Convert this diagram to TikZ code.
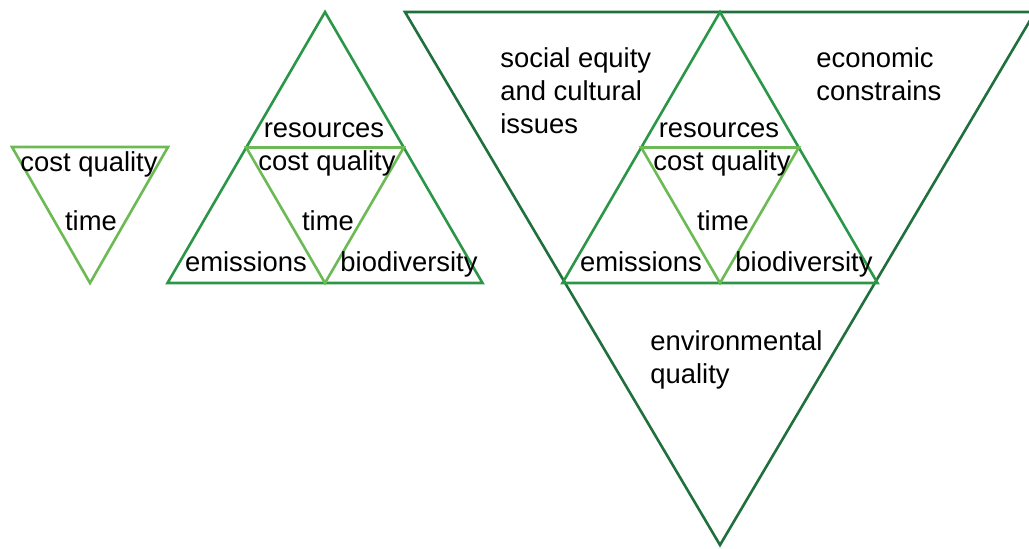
\documentclass[tikz,border=0pt]{standalone}
\usepackage{fontspec}
\setmainfont{Liberation Sans}
\usetikzlibrary{positioning}
\definecolor{deepGreen}{RGB}{32,112,62}
\definecolor{midGreen}{RGB}{44,150,72}
\definecolor{lightGreen}{RGB}{108,186,84}
\tikzset{
  outerline/.style={draw=deepGreen, line width=1.3pt},
  midline/.style={draw=midGreen, line width=1.3pt},
  innerline/.style={draw=lightGreen, line width=1.3pt},
  lbl/.style={inner sep=0pt, anchor=base, font=\fontsize{13.7}{16.5}\selectfont},
  blocklbl/.style={lbl, anchor=north west, align=left}
}

\begin{document}
\begin{tikzpicture}[x=0.5pt, y=-0.5pt]
        \clip (0,0) rectangle (1029,548);
        % single triangle
        \coordinate (one-l) at (12,147);
        \coordinate (one-r) at (168,147);
        \coordinate (one-b) at (90,283);
        \draw[innerline] (one-l) -- (one-r) -- (one-b) -- cycle;
        \node[lbl] (one-cq) at (89,171) {cost quality};
        \node[lbl] (one-time) at (91,230) {time};
        % big inverted triangle
        \coordinate (big-l) at (405,12);
        \coordinate (big-r) at (1035,12);
        \coordinate (big-b) at (720,545);
        \draw[outerline] (big-l) -- (big-r) -- (big-b) -- cycle;
        \node[blocklbl] (social) at (500,47) {social equity\\and cultural\\issues};
        \node[blocklbl] (econ) at (816,47) {economic\\constrains};
        \node[blocklbl] (env) at (650,330) {environmental\\quality};
        % triangle of four, twice
        \foreach \cx/\tag in {325/mid, 720/top}{
          \coordinate (\tag-a) at (\cx,12);
          \coordinate (\tag-bl) at (\cx-157.5,283);
          \coordinate (\tag-br) at (\cx+157.5,283);
          \coordinate (\tag-ml) at (\cx-78.75,147.5);
          \coordinate (\tag-mr) at (\cx+78.75,147.5);
          \coordinate (\tag-mb) at (\cx,283);
          \draw[midline] (\tag-a) -- (\tag-bl) -- (\tag-br) -- cycle;
          \draw[innerline] (\tag-ml) -- (\tag-mr) -- (\tag-mb) -- cycle;
          \node[lbl] (\tag-res) at (\cx-1,137) {resources};
          \node[lbl] (\tag-cq) at (\cx+2,170) {cost quality};
          \node[lbl] (\tag-time) at (\cx+3,230) {time};
          \node[lbl] (\tag-emi) at (\cx-79,271) {emissions};
          \node[lbl] (\tag-bio) at (\cx+84,271) {biodiversity};
        }
      \end{tikzpicture}
\end{document}
